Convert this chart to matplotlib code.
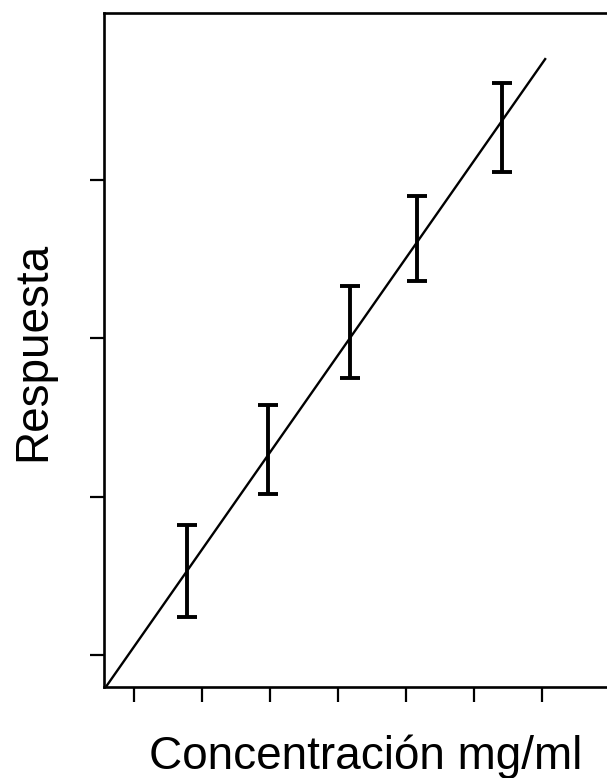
import matplotlib
matplotlib.use("Agg")
import matplotlib.pyplot as plt
import numpy as np

# Data
conc = [1.78, 2.97, 4.18, 5.16, 6.41]
resp = [1.53, 2.30, 3.04, 3.63, 4.33]
err = [0.29, 0.28, 0.29, 0.27, 0.28]
fit_x = [0.59, 7.06]
fit_y = [0.80, 4.77]
x_ticks = [1, 2, 3, 4, 5, 6, 7]
y_ticks = [1, 2, 3, 4]

plt.rcParams['font.family'] = ['Liberation Sans', 'DejaVu Sans']

fig = plt.figure(figsize=(6.07, 7.78), dpi=100)
ax = fig.add_axes([104/607, 1-687/778, 1-104/607, (687-13)/778])

ax.plot(fit_x, fit_y, color='black', lw=1.7, solid_capstyle='butt')
ax.errorbar(conc, resp, yerr=err, fmt='none', ecolor='black',
            elinewidth=2.8, capsize=7.5, capthick=2.8)

ax.set_xlim(0.56, 7.96)
ax.set_ylim(0.798, 5.055)
ax.set_xticks(x_ticks)
ax.set_yticks(y_ticks)
ax.set_xticklabels([])
ax.set_yticklabels([])
ax.tick_params(axis='x', direction='out', length=11, width=1.6, color='black')
ax.tick_params(axis='y', direction='out', length=10, width=1.6, color='black')
for s in ['left', 'bottom', 'top']:
    ax.spines[s].set_linewidth(1.9)
    ax.spines[s].set_color('black')
ax.spines['right'].set_visible(False)

fig.text(366/607, 1-769/778, 'Concentración mg/ml', fontsize=33,
         ha='center', va='baseline', color='black')
fig.text(33/607, 1-351/778, 'Respuesta', fontsize=33, rotation=90,
         ha='center', va='center', color='black')

fig.savefig('out.png', dpi=100)
